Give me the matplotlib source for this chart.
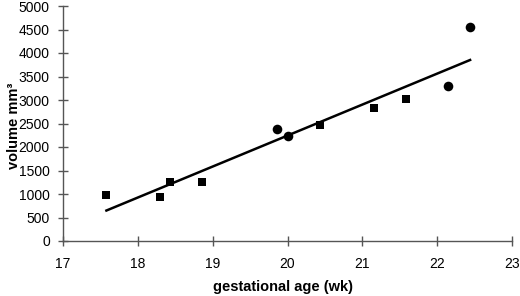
import numpy as np
import matplotlib
matplotlib.use("Agg")
import matplotlib.pyplot as plt

plt.rcParams['font.family'] = ['Liberation Sans', 'DejaVu Sans']

# squares
sq_x = [17.58, 18.30, 18.43, 18.86, 20.43, 21.15, 21.58]
sq_y = [980, 930, 1250, 1250, 2460, 2825, 3015]
# circles
ci_x = [19.86, 20.00, 22.15, 22.44]
ci_y = [2380, 2240, 3300, 4560]

x_ticks = [17, 18, 19, 20, 21, 22, 23]
y_ticks = [0, 500, 1000, 1500, 2000, 2500, 3000, 3500, 4000, 4500, 5000]

fig = plt.figure(figsize=(5.2, 2.96), dpi=100)
ax = fig.add_axes([63/520, 1 - 241/296, (512 - 63)/520, (241 - 6)/296])

all_x = np.array(sq_x + ci_x)
all_y = np.array(sq_y + ci_y)
k, b = np.polyfit(all_x, all_y, 1)
lx = np.array([all_x.min(), all_x.max()])
ax.plot(lx, k * lx + b, color='black', lw=1.8, zorder=2)

ax.scatter(sq_x, sq_y, marker='s', s=36, color='black', zorder=3, linewidths=0)
ax.scatter(ci_x, ci_y, marker='o', s=48, color='black', zorder=3, linewidths=0)

ax.set_xlim(17, 23)
ax.set_ylim(0, 5000)
ax.set_xticks(x_ticks)
ax.set_yticks(y_ticks)
for s in ['top', 'right']:
    ax.spines[s].set_visible(False)
for s in ['left', 'bottom']:
    ax.spines[s].set_color('#555555')
    ax.spines[s].set_linewidth(1.0)
ax.tick_params(direction='inout', length=7, width=1.0, color='#555555',
               labelsize=10, pad=6)
ax.tick_params(axis='x', pad=8)

ax.set_xlabel('gestational age (wk)', fontsize=10.5, fontweight='bold')
ax.set_ylabel('volume mm³', fontsize=10.5, fontweight='bold')
ax.xaxis.set_label_coords(0.49, -0.168)
ax.yaxis.set_label_coords(-0.093, 0.49)

fig.savefig('out.png', dpi=100)
